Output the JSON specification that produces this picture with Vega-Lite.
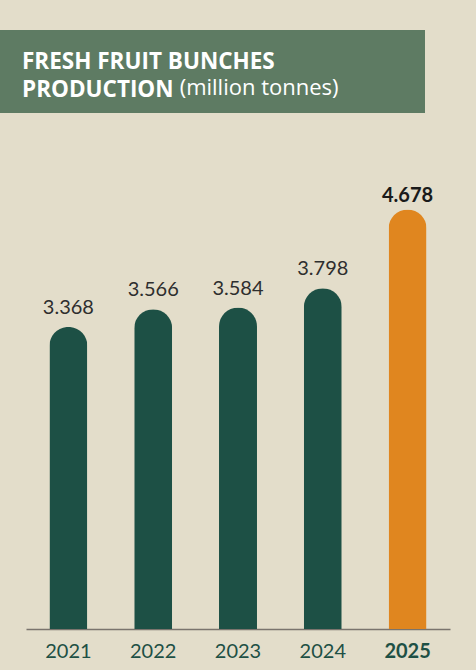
{
  "$schema": "https://vega.github.io/schema/vega-lite/v6.json",
  "background": "#e3ddca",
  "padding": {"left": 0, "top": 30, "right": 27, "bottom": 9},
  "config": {"view": {"stroke": null}},
  "spacing": 20,
  "vconcat": [
    {
      "width": 425,
      "height": 83,
      "view": {"fill": "#5e7b63", "stroke": null},
      "title": {
        "text": ["FRESH FRUIT BUNCHES", "PRODUCTION"],
        "subtitle": "\u200b\u2002\u2002\u2002\u2002\u2002\u2002\u2002\u2002\u2002\u2002\u2002\u2002\u2002\u2002\u2009(million tonnes)",
        "anchor": "start",
        "orient": "top",
        "frame": "group",
        "offset": -71,
        "dx": 22,
        "font": "Open Sans",
        "fontSize": 22.5,
        "fontWeight": "bold",
        "color": "#ffffff",
        "lineHeight": 28,
        "subtitleFont": "Open Sans",
        "subtitleFontSize": 22,
        "subtitleFontWeight": "normal",
        "subtitleColor": "#ffffff",
        "subtitleLineHeight": 28,
        "subtitlePadding": -23
      },
      "data": {"values": [{}]},
      "mark": {"type": "text", "text": ""},
      "encoding": {}
    },
    {
      "width": 449,
      "height": 496,
      "data": {
        "values": [
          {"year": "2021", "value": 3.368},
          {"year": "2022", "value": 3.566},
          {"year": "2023", "value": 3.584},
          {"year": "2024", "value": 3.798},
          {"year": "2025", "value": 4.678}
        ]
      },
      "encoding": {
        "x": {
          "field": "year",
          "type": "ordinal",
          "scale": {"range": [26, 450], "paddingInner": 0.552, "paddingOuter": 0.276},
          "axis": {
            "title": null,
            "labelAngle": 0,
            "ticks": false,
            "labelPadding": 12,
            "labelFont": "Lato",
            "labelFontSize": 20,
            "labelColor": "#1e5045",
            "labelFontWeight": {"condition": {"test": "datum.value == '2025'", "value": "bold"}, "value": "normal"},
            "domainColor": "#7a746d",
            "domainWidth": 1.5
          }
        },
        "y": {
          "field": "value",
          "type": "quantitative",
          "scale": {"domain": [0, 5.53], "nice": false, "zero": true},
          "axis": null
        }
      },
      "layer": [
        {
          "mark": {"type": "bar", "cornerRadiusTopLeft": 19, "cornerRadiusTopRight": 19},
          "encoding": {
            "color": {
              "condition": {"test": "datum.year == '2025'", "value": "#e0861f"},
              "value": "#1d5045"
            }
          }
        },
        {
          "transform": [{"filter": "datum.year != '2025'"}],
          "mark": {"type": "text", "baseline": "bottom", "dy": -9, "font": "Lato", "fontSize": 20, "color": "#2e2e2e"},
          "encoding": {
            "text": {"field": "value", "type": "quantitative", "format": ".3f"}
          }
        },
        {
          "transform": [{"filter": "datum.year == '2025'"}],
          "mark": {"type": "text", "baseline": "bottom", "dy": -3, "font": "Lato", "fontSize": 20, "fontWeight": "bold", "color": "#1a1a1a"},
          "encoding": {
            "text": {"field": "value", "type": "quantitative", "format": ".3f"}
          }
        }
      ]
    }
  ]
}
